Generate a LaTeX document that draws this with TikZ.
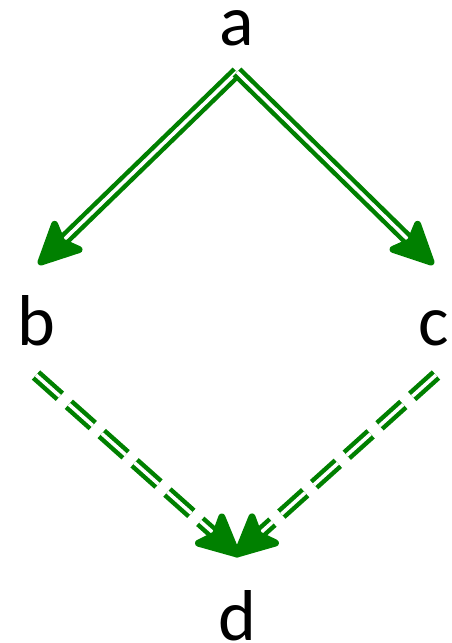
\documentclass[tikz,border=0pt]{standalone}
\usepackage{fontspec}
\setmainfont{Carlito}
\usetikzlibrary{calc}
\definecolor{arrgreen}{RGB}{0,128,0}
\begin{document}
\begin{tikzpicture}[x=1pt,y=-1pt,
  lbl/.style={font=\fontsize{72}{72}\selectfont, inner sep=0pt, anchor=base},
  dbl/.style={draw=arrgreen, line width=4.5pt, double=white, double distance=3.5pt, shorten >=26pt},
  dsh/.style={dbl, dash pattern=on 32pt off 12pt},
  head/.style={draw=arrgreen, fill=arrgreen, line width=7pt, line join=round}]
\useasboundingbox (0,0) rectangle (452,643);
\node[lbl] (a) at (237,45) {a};
\node[lbl] (b) at (36,345) {b};
\node[lbl] (c) at (434,345) {c};
\node[lbl] (d) at (237,640) {d};
\coordinate (a1) at (237,72);
\coordinate (b1) at (41,262);
\coordinate (c1) at (431,262);
\coordinate (b2) at (36,375);
\coordinate (c2) at (436,375);
\coordinate (d1) at (237,554);
\draw[dbl] (a1) -- (b1);
\draw[dbl] (a1) -- (c1);
\draw[dsh] (b2) -- (d1);
\draw[dsh] (c2) -- (d1);
\draw[head] (b1) -- ($(b1)!40pt!26:(a1)$) -- ($(b1)!29pt!(a1)$) -- ($(b1)!40pt!-26:(a1)$) -- cycle;
\draw[head] (c1) -- ($(c1)!40pt!26:(a1)$) -- ($(c1)!29pt!(a1)$) -- ($(c1)!40pt!-26:(a1)$) -- cycle;
\draw[head] (d1) -- ($(d1)!40pt!26:(b2)$) -- ($(d1)!29pt!(b2)$) -- ($(d1)!40pt!-26:(b2)$) -- cycle;
\draw[head] (d1) -- ($(d1)!40pt!26:(c2)$) -- ($(d1)!29pt!(c2)$) -- ($(d1)!40pt!-26:(c2)$) -- cycle;
\end{tikzpicture}
\end{document}
